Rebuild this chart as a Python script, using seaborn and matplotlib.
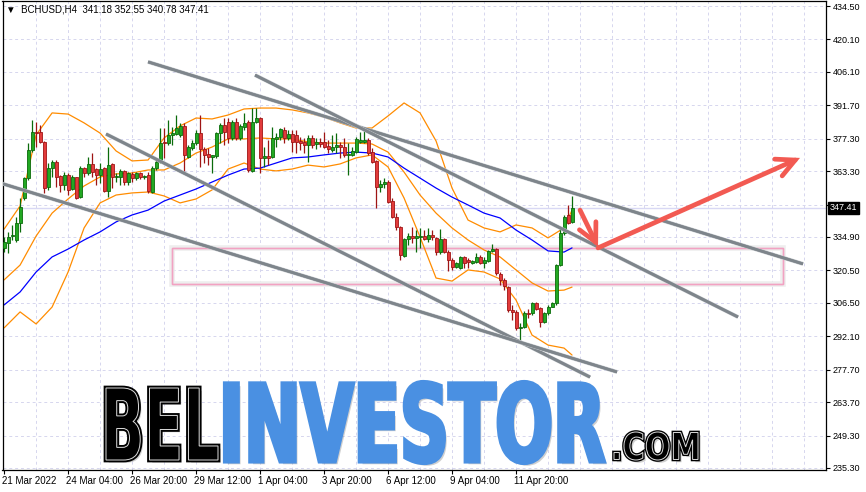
import numpy as np
import pandas as pd
import seaborn as sns
import matplotlib.pyplot as plt
import matplotlib.patheffects as pe
from matplotlib.patches import Rectangle, PathPatch
from matplotlib.textpath import TextPath
from matplotlib.font_manager import FontProperties
from matplotlib.transforms import Affine2D, ScaledTranslation, blended_transform_factory

sns.set_theme(style='white')
plt.rcParams['font.family'] = ['Liberation Sans', 'DejaVu Sans']

# BCHUSD H4 свечи
opens = [330.2, 332.3, 335.3, 333.6, 340.9, 351.7, 360.3, 372.4, 380.2, 380.2,
         375.9, 356.5, 364.6, 367.2, 361.2, 357.3, 361.6, 355.6, 360.8, 352.1,
         364.6, 362.5, 366.4, 364.2, 361.6, 364.6, 354.7, 366.4, 360.8, 360.8,
         363.4, 358.6, 362.1, 360.3, 362.5, 360.8, 361.6, 354.3, 364.6, 367.2,
         375.9, 375.4, 378.9, 379.3, 378.9, 382.8, 369.4, 373.3, 375.4, 379.7,
         372.8, 370.7, 369.4, 369.8, 379.7, 383.2, 384.5, 377.6, 384.5, 377.6,
         382.3, 384.5, 363.4, 384.5, 386.2, 369.0, 369.8, 369.4, 377.2, 378.0,
         381.0, 377.6, 379.3, 378.9, 376.3, 375.9, 374.6, 377.6, 375.0, 375.9,
         375.9, 374.1, 372.4, 373.7, 374.6, 373.7, 370.3, 370.3, 371.5, 375.9,
         375.9, 376.7, 371.5, 367.7, 356.5, 357.7, 358.6, 350.4, 343.5, 339.2,
         326.7, 334.0, 335.3, 334.5, 334.9, 335.3, 334.0, 335.8, 334.5, 328.4,
         334.0, 328.4, 325.0, 322.0, 321.5, 326.3, 325.0, 323.7, 324.1, 326.3,
         323.7, 324.5, 328.9, 329.7, 318.9, 316.4, 313.3, 303.4, 302.6, 295.7,
         296.1, 302.1, 302.1, 306.4, 304.3, 298.2, 302.1, 304.7, 306.4, 322.8,
         336.6, 344.4, 341.18]
highs = [334.9, 337.1, 340.1, 343.5, 351.7, 360.8, 375.4, 385.3, 384.5, 383.2,
         376.3, 366.8, 368.1, 368.1, 361.6, 362.9, 362.5, 361.6, 360.8, 365.5,
         365.1, 369.4, 371.1, 364.6, 366.8, 365.1, 373.7, 366.8, 362.5, 364.2,
         363.8, 362.9, 362.9, 362.9, 362.9, 361.6, 362.9, 365.5, 368.1, 381.9,
         381.9, 385.3, 382.3, 387.5, 384.1, 384.1, 374.6, 376.7, 381.0, 387.5,
         373.7, 373.3, 370.3, 380.2, 384.1, 386.2, 386.2, 385.3, 386.2, 383.6,
         388.4, 385.3, 390.5, 390.5, 386.6, 373.7, 376.7, 382.3, 379.7, 381.9,
         382.3, 381.0, 381.0, 381.0, 378.0, 377.6, 378.9, 378.9, 377.6, 377.6,
         380.2, 376.7, 378.9, 379.7, 375.9, 377.6, 375.4, 373.7, 378.0, 380.2,
         381.0, 377.6, 373.3, 368.1, 359.5, 360.3, 359.5, 351.7, 345.2, 339.6,
         334.5, 336.6, 339.2, 337.9, 338.8, 337.9, 338.8, 337.9, 334.9, 338.3,
         334.5, 329.3, 325.8, 324.1, 326.7, 326.7, 325.8, 325.0, 328.0, 327.1,
         326.3, 329.3, 331.9, 330.2, 319.8, 317.3, 313.8, 305.6, 303.4, 297.8,
         303.0, 303.9, 306.9, 306.9, 304.7, 302.6, 305.6, 306.9, 323.3, 338.8,
         344.4, 348.7, 352.55]
lows = [328.4, 328.0, 333.6, 332.7, 337.1, 350.9, 359.5, 371.5, 373.7, 375.4,
        353.9, 355.2, 360.8, 356.5, 354.3, 355.2, 353.0, 355.2, 351.3, 351.7,
        360.8, 361.6, 360.8, 357.3, 358.2, 354.3, 352.1, 356.0, 358.6, 357.3,
        357.3, 357.3, 358.6, 359.5, 359.9, 359.9, 353.9, 353.9, 363.8, 366.8,
        369.0, 374.6, 374.6, 378.9, 378.0, 362.9, 369.0, 372.4, 374.6, 365.1,
        366.8, 365.9, 362.5, 369.0, 375.4, 374.6, 375.4, 376.7, 376.7, 376.7,
        381.0, 362.9, 362.9, 384.1, 362.5, 365.1, 365.9, 369.0, 373.7, 376.7,
        375.4, 376.7, 371.5, 371.1, 372.4, 371.1, 367.2, 373.3, 372.8, 373.7,
        373.3, 371.1, 371.5, 371.1, 369.0, 369.4, 361.6, 369.8, 371.1, 375.4,
        375.4, 370.3, 366.8, 347.4, 354.3, 356.0, 349.6, 343.1, 337.9, 325.0,
        326.3, 331.4, 332.3, 328.4, 330.2, 333.6, 332.7, 333.6, 327.1, 327.6,
        328.0, 320.2, 320.7, 321.5, 321.1, 321.5, 321.5, 323.3, 323.7, 323.3,
        321.5, 324.1, 328.4, 318.5, 314.2, 312.0, 302.6, 299.1, 294.8, 290.5,
        295.7, 300.0, 301.3, 303.4, 296.1, 297.8, 301.3, 304.7, 305.6, 322.4,
        335.8, 340.5, 340.78]
closes = [332.7, 334.9, 335.8, 340.9, 347.8, 360.3, 372.4, 380.2, 379.7, 375.9,
          356.0, 364.6, 367.2, 360.8, 357.3, 361.6, 355.2, 360.8, 351.7, 364.6,
          362.5, 366.4, 362.9, 361.6, 364.2, 354.7, 365.9, 360.8, 361.2, 363.4,
          358.6, 362.5, 360.3, 362.5, 360.8, 361.2, 354.7, 364.6, 367.2, 375.4,
          375.4, 378.9, 379.7, 381.9, 382.8, 370.3, 373.7, 375.4, 379.7, 372.8,
          370.3, 369.4, 370.3, 379.7, 383.2, 380.2, 377.6, 384.5, 377.6, 382.8,
          384.1, 363.8, 384.5, 386.2, 369.0, 369.8, 369.0, 377.6, 378.0, 381.5,
          377.6, 379.3, 375.9, 375.9, 375.4, 374.6, 377.6, 374.6, 375.9, 375.0,
          373.7, 372.8, 373.7, 374.6, 373.7, 370.3, 370.7, 372.0, 377.2, 376.7,
          376.7, 371.1, 367.2, 356.5, 357.7, 358.6, 350.0, 343.5, 339.2, 327.1,
          334.0, 335.3, 334.5, 335.3, 335.3, 334.0, 335.8, 334.9, 328.4, 334.0,
          328.4, 325.0, 322.0, 323.7, 326.3, 323.7, 324.1, 324.5, 326.3, 323.7,
          325.0, 328.9, 329.7, 319.4, 316.4, 313.8, 303.4, 302.6, 295.7, 296.1,
          302.1, 301.7, 306.4, 303.9, 298.2, 302.1, 304.7, 306.4, 322.8, 336.6,
          343.5, 340.9, 347.41]

# индикаторы: значения через каждые 4 бара (и последний бар)
ind_idx = list(range(0, 141, 4)) + [142]
ma_blue = [305.6, 311.2, 319.8, 326.3, 329.7, 333.6, 337.1, 341.4, 344.4, 346.5,
           350.4, 353.0, 355.6, 358.6, 361.6, 364.2, 364.6, 366.8, 369.0, 369.4,
           370.3, 371.1, 371.5, 371.1, 369.4, 364.6, 360.3, 356.0, 352.1, 348.7,
           345.2, 343.1, 337.9, 333.6, 328.9, 328.4, 330.2]
bb_upper = [338.3, 348.3, 378.9, 388.4, 387.9, 384.1, 379.7, 372.0, 367.7, 368.1,
            377.6, 382.8, 386.2, 385.8, 387.5, 390.1, 390.5, 390.5, 389.7, 388.4,
            386.6, 384.1, 381.9, 381.9, 387.1, 392.7, 388.4, 376.3, 356.0, 342.2,
            338.8, 337.1, 340.1, 338.8, 334.5, 338.8, 346.5]
bb_mid = [316.4, 322.8, 335.3, 345.2, 351.3, 356.9, 360.8, 362.1, 362.5, 363.8,
          363.8, 366.8, 371.1, 373.7, 377.2, 377.2, 377.6, 377.2, 377.2, 375.9,
          375.4, 375.4, 375.4, 375.0, 371.5, 362.9, 353.0, 345.2, 338.8, 333.6,
          329.3, 326.3, 320.7, 315.1, 311.6, 312.0, 313.3]
bb_lower = [295.7, 302.6, 297.4, 304.7, 319.8, 338.8, 349.6, 353.0, 353.9, 354.3,
            352.6, 349.6, 351.3, 355.2, 364.2, 366.8, 364.2, 363.4, 364.2, 365.9,
            365.1, 366.4, 369.0, 370.3, 365.1, 351.7, 334.9, 317.2, 315.9, 320.7,
            319.8, 316.8, 307.7, 292.6, 288.3, 287.0, 284.0]

y_ticks = [434.5, 420.1, 406.1, 391.7, 377.3, 363.3, 348.9, 334.9, 320.5,
           306.5, 292.1, 277.7, 263.7, 249.3, 235.3]
x_tick_pos = [0, 16, 32, 48, 64, 80, 96, 112, 128]
x_tick_labels = ['21 Mar 2022', '24 Mar 04:00', '26 Mar 20:00', '29 Mar 12:00',
                 '1 Apr 04:00', '3 Apr 20:00', '6 Apr 12:00', '9 Apr 04:00',
                 '11 Apr 20:00']

# трендовые линии: (бар, цена) -> (бар, цена)
trend_lines = [((36.0, 410.4), (199.75, 323.3)),
               ((62.75, 404.7), (183.5, 300.4)),
               ((25.5, 379.3), (146.5, 274.5)),
               ((-1.0, 358.2), (153.25, 276.7))]
zone_bars = (42.0, 194.75)
zone_prices = (314.6, 330.3)
arrow_down = ((144.0, 346.5), (148.5, 330.6))
arrow_up = ((148.5, 330.2), (199.0, 369.0))

W_PX, H_PX = 866, 492
fig = plt.figure(figsize=(W_PX / 100, H_PX / 100), dpi=100)
ax = fig.add_axes([2.5 / W_PX, 22 / H_PX, 823.5 / W_PX, 469 / H_PX])

df = pd.DataFrame({'open': opens, 'high': highs, 'low': lows, 'close': closes})
df['bar'] = np.arange(len(df))
up = (df['close'] >= df['open']).values

# сетка
grid_kw = dict(color='#d6d6ee', lw=0.7, ls=(0, (3, 3)), zorder=0)
for v in y_ticks:
    ax.axhline(v, **grid_kw)
for b in range(8, 206, 8):
    ax.axvline(b, **grid_kw)
ax.axhline(closes[-1], color='#d8d8f4', lw=1.0, zorder=0.5)

# зона
ax.add_patch(Rectangle((zone_bars[0], zone_prices[0]), zone_bars[1] - zone_bars[0],
                       zone_prices[1] - zone_prices[0], fill=False, ec='#f2a2c2', lw=1.0,
                       zorder=1,
                       path_effects=[pe.withStroke(linewidth=4, foreground='#eeeeee'), pe.Normal()]))

# индикаторы
for vals, col in [(bb_upper, '#ff8c00'), (bb_mid, '#ff8c00'), (bb_lower, '#ff8c00'), (ma_blue, '#0000ff')]:
    sns.lineplot(x=ind_idx, y=vals, ax=ax, color=col, linewidth=0.9, zorder=2)

# свечи
ax.vlines(df['bar'], df['low'], df['high'], colors=np.where(up, '#0b6b0b', '#9e1414'),
          lw=0.9, zorder=3)
body_lo = df[['open', 'close']].min(axis=1)
body_h = (df['close'] - df['open']).abs().clip(lower=0.4)
ax.bar(df['bar'], body_h, bottom=body_lo, width=0.75,
       color=np.where(up, '#22a822', '#e23b3b'),
       edgecolor=np.where(up, '#0b6b0b', '#a01515'), linewidth=0.6, zorder=4)

# трендовые линии
for (b0, p0), (b1, p1) in trend_lines:
    ax.plot([b0, b1], [p0, p1], color='#7e858b', lw=1.9, solid_capstyle='butt', zorder=5,
            path_effects=[pe.withStroke(linewidth=2.8, foreground='#c4c8cc'), pe.Normal()])

# стрелки
for (b0, p0), (b1, p1) in [arrow_down, arrow_up]:
    ax.annotate('', xy=(b1, p1), xytext=(b0, p0),
                arrowprops=dict(arrowstyle='->,head_length=1.1,head_width=0.55',
                                color='#f25a52', lw=3.4, shrinkA=0, shrinkB=0,
                                joinstyle='miter', capstyle='round'),
                zorder=6)

ax.set_xlim(-0.4, 205.5)
ax.set_ylim(234.43, 436.66)
ax.set_xlabel('')
ax.set_ylabel('')

ax.yaxis.tick_right()
# метка 348.90 закрыта плашкой текущей цены
ax.set_yticks(y_ticks, ['' if v == 348.9 else f'{v:.2f}' for v in y_ticks])
ax.set_xticks(x_tick_pos, x_tick_labels)
ax.tick_params(axis='y', direction='out', length=3, width=0.8, pad=2, labelsize=6.5,
               colors='black', right=True, left=False)
ax.tick_params(axis='x', direction='out', length=3, width=0.8, pad=1, labelsize=7,
               colors='black', bottom=True)
for lab in ax.get_xticklabels():
    lab.set_horizontalalignment('left')
    lab.set_transform(lab.get_transform() + ScaledTranslation(-2 / 100, 0, fig.dpi_scale_trans))
for s in ax.spines.values():
    s.set_visible(True)
    s.set_color('black')
    s.set_linewidth(0.9)

# метка текущей цены
ax.text(1.005, closes[-1], f'{closes[-1]:.2f}', color='white', fontsize=6.5,
        va='center', ha='left', clip_on=False, zorder=10,
        transform=blended_transform_factory(ax.transAxes, ax.transData),
        bbox=dict(boxstyle='square,pad=0.2', fc='black', ec='black'))

# заголовок
fig.text(6 / W_PX, 1 - 10 / H_PX,
         f'\u25bc  BCHUSD,H4  {opens[-1]:.2f} {highs[-1]:.2f} {lows[-1]:.2f} {closes[-1]:.2f}',
         fontsize=7, va='center', ha='left', color='black')

# логотип
logo_font = FontProperties(family='DejaVu Sans', weight='bold')


def draw_word(text, x0, x1, top, bottom, fc, ec, lw, inline=None):
    tp = TextPath((0, 0), text, size=100, prop=logo_font)
    ext = tp.get_extents()
    tr = (Affine2D().translate(-ext.x0, -ext.y0)
          .scale((x1 - x0) / ext.width, (bottom - top) / ext.height)
          .translate(x0, H_PX - bottom)
          .scale(1 / W_PX, 1 / H_PX))
    path = tr.transform_path(tp)
    shadow = [pe.SimplePatchShadow(offset=(2, -2), shadow_rgbFace='#777777', alpha=0.35), pe.Normal()]
    fig.add_artist(PathPatch(path, fc=fc, ec=ec, lw=lw, transform=fig.transFigure,
                             path_effects=shadow, zorder=20))
    if inline:
        fig.add_artist(PathPatch(path, fc=fc, ec=inline, lw=0.7, transform=fig.transFigure,
                                 zorder=21))


draw_word('BEL', 106, 218, 388, 460, 'black', 'black', 3.4, inline='#dddddd')
draw_word('INVESTOR', 225, 604, 382, 463, '#4a90e2', '#4a90e2', 3.0)
draw_word('.COM', 614, 698, 432, 460, 'black', 'black', 2.6, inline='#dddddd')

fig.savefig('out.png', dpi=100)
